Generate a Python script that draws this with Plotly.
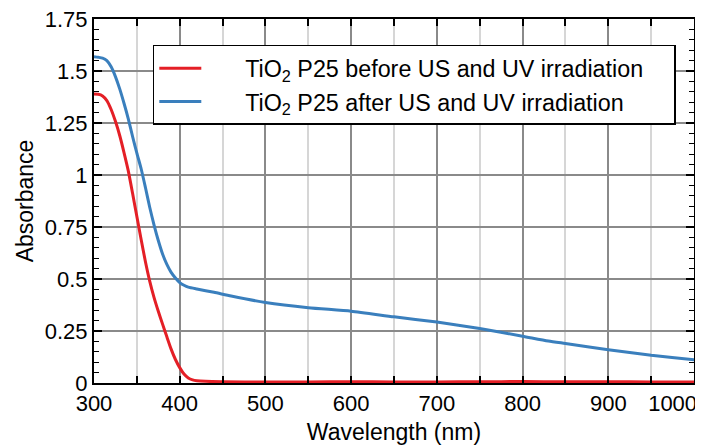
import plotly.graph_objects as go

# Wavelength (nm) and absorbance
wl_before = [300, 305, 310, 315, 320, 325, 330, 335, 340, 345, 350, 355, 360, 365, 370,
             375, 380, 385, 390, 395, 400, 405, 410, 415, 420, 430, 450, 500, 550, 600,
             650, 700, 750, 800, 850, 900, 950, 1000, 1020]
abs_before = [1.389, 1.388, 1.380, 1.358, 1.315, 1.258, 1.190, 1.108, 1.020, 0.912, 0.800,
              0.690, 0.583, 0.490, 0.412, 0.345, 0.283, 0.222, 0.163, 0.113, 0.074, 0.043,
              0.024, 0.015, 0.011, 0.008, 0.006, 0.005, 0.005, 0.006, 0.005, 0.005, 0.006,
              0.007, 0.006, 0.006, 0.005, 0.005, 0.005]

wl_after = [300, 305, 310, 315, 320, 325, 330, 335, 340, 345, 350, 355, 360, 365, 370,
            375, 380, 385, 390, 395, 400, 405, 410, 420, 440, 460, 500, 550, 600, 650,
            700, 750, 800, 830, 850, 900, 950, 1000, 1020]
abs_after = [1.569, 1.566, 1.562, 1.550, 1.520, 1.473, 1.414, 1.345, 1.270, 1.185, 1.105,
             1.030, 0.940, 0.845, 0.760, 0.685, 0.620, 0.570, 0.532, 0.505, 0.483, 0.470,
             0.461, 0.452, 0.436, 0.418, 0.387, 0.362, 0.345, 0.318, 0.293, 0.262, 0.225,
             0.202, 0.190, 0.160, 0.133, 0.112, 0.104]

series_names = ["TiO<sub>2</sub> P25 before US and UV irradiation",
                "TiO<sub>2</sub> P25 after US and UV irradiation"]

x_tick_vals = [300, 400, 500, 600, 700, 800, 900, 1000]
x_tick_text = ["300", "400", "500", "600", "700", "800", "900", "1000"]
y_tick_vals = [0, 0.25, 0.5, 0.75, 1, 1.25, 1.5, 1.75]
y_tick_text = ["0", "0.25", "0.5", "0.75", "1", "1.25", "1.5", "1.75"]

FONT = "Liberation Sans, Arial, sans-serif"
PAD = "&nbsp;" * 6
TAIL = "&nbsp;" * 4

# last x label sits left of its tick so it stays inside the figure (as in the reference)
x_tick_labels = x_tick_text[:-1] + [x_tick_text[-1] + "&nbsp;" * 7]

fig = go.Figure()
fig.add_trace(go.Scatter(x=wl_before, y=abs_before, mode="lines", name=PAD + series_names[0] + TAIL,
                         line=dict(color="#e41f26", width=3, shape="spline", smoothing=0.6)))
fig.add_trace(go.Scatter(x=wl_after, y=abs_after, mode="lines", name=PAD + series_names[1] + TAIL,
                         line=dict(color="#3a7fbd", width=3, shape="spline", smoothing=0.6)))

# The page body adds an 8px margin, so the figure is 8px smaller than the window
fig.update_layout(
    width=695, height=439,
    margin=dict(l=86, r=9, t=11, b=64),
    paper_bgcolor="white", plot_bgcolor="white",
    font=dict(family=FONT, size=22, color="black"),
    legend=dict(x=0.098, y=0.9286, xanchor="left", yanchor="top",
                bgcolor="white", bordercolor="black", borderwidth=1.5,
                font=dict(family=FONT, size=23.3, color="black"),
                itemwidth=42, tracegroupgap=0),
    xaxis=dict(
        range=[300, 1000], tickmode="array", tickvals=x_tick_vals, ticktext=x_tick_labels,
        ticks="inside", ticklen=7, tickwidth=1.5, tickcolor="black",
        showline=True, linecolor="black", linewidth=2, mirror="ticks",
        showgrid=True, gridcolor="#8a8a8a", gridwidth=1.5, zeroline=False,
        automargin=False, ticklabeloverflow="allow",
        title=dict(text="Wavelength (nm)", standoff=8, font=dict(size=23)),
        tickfont=dict(size=22),
        minor=dict(dtick=50, tick0=300, ticks="inside", ticklen=7, tickwidth=1.5,
                   tickcolor="black", showgrid=True, gridcolor="#d6d6d6", gridwidth=1.5),
    ),
    yaxis=dict(
        range=[0, 1.75], tickmode="array", tickvals=y_tick_vals, ticktext=y_tick_text,
        ticks="inside", ticklen=8, tickwidth=1.5, tickcolor="black",
        showline=True, linecolor="black", linewidth=2, mirror="ticks",
        showgrid=True, gridcolor="#8a8a8a", gridwidth=1.5, zeroline=False,
        automargin=False, ticklabeloverflow="allow",
        title=dict(text="Absorbance", standoff=5, font=dict(size=23)),
        tickfont=dict(size=22),
        minor=dict(dtick=0.05, tick0=0, ticks="inside", ticklen=5, tickwidth=1.2,
                   tickcolor="black", showgrid=False),
    ),
)

fig.write_html("out.html")
